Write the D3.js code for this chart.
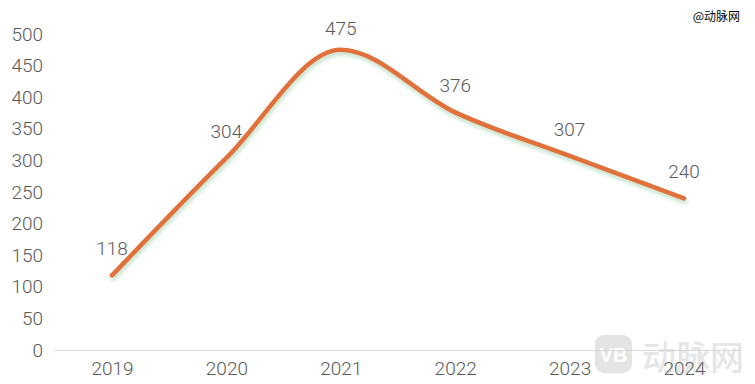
<!DOCTYPE html>
<html><head><meta charset="utf-8">
<script src="https://cdn.jsdelivr.net/npm/d3@7/dist/d3.min.js"></script>
<style>body{margin:0;background:#fff}svg{display:block}</style>
</head><body>
<svg id="c" width="755" height="384"></svg>
<script>
const years = ["2019","2020","2021","2022","2023","2024"];
const values = [118, 304, 475, 376, 307, 240];
const yTicks = [0,50,100,150,200,250,300,350,400,450,500];

const svg = d3.select("#c");
const font = "Roboto, 'Noto Sans', sans-serif";
const x = d3.scalePoint().domain(years).range([112, 684]);
const y = d3.scaleLinear().domain([0, 500]).range([350, 34]);

const defs = svg.append("defs");
const f = defs.append("filter").attr("id","sh").attr("x","-10%").attr("y","-10%").attr("width","120%").attr("height","130%");
f.append("feDropShadow").attr("dx",1).attr("dy",3).attr("stdDeviation",2).attr("flood-color","#a6d4b0").attr("flood-opacity",0.75);

// watermark bottom-right
const wm = svg.append("g");
wm.append("rect").attr("x",595).attr("y",335).attr("width",37).attr("height",38).attr("rx",9).attr("fill","#e4e4e4");
wm.append("text").attr("x",613.5).attr("y",362).attr("text-anchor","middle").attr("fill","#fff")
  .attr("font-family","Arial, sans-serif").attr("font-weight","bold").attr("font-size",20).text("VB");
wm.append("text").attr("x",642).attr("y",370).attr("font-family","'Noto Sans CJK SC', sans-serif")
  .attr("font-size",34).attr("font-weight",500).attr("fill","#e6e6e6").text("动脉网");

// baseline
svg.append("line").attr("x1",55).attr("x2",740).attr("y1",350.5).attr("y2",350.5).attr("stroke","#d6d6d6").attr("stroke-width",1);

// y axis
const yAxis = d3.axisLeft(y).tickValues(yTicks).tickSize(0).tickPadding(0);
const ga = svg.append("g").attr("transform","translate(43,0)").call(yAxis);
ga.select(".domain").remove();
ga.selectAll("text").attr("font-family",font).attr("font-size",19).attr("fill","#595959").attr("font-weight",300);

// x axis
const xAxis = d3.axisBottom(x).tickSize(0).tickPadding(0);
const gx = svg.append("g").attr("transform","translate(0,361)").call(xAxis);
gx.select(".domain").remove();
gx.selectAll("text").attr("font-family",font).attr("font-size",19).attr("fill","#595959").attr("font-weight",300);

// line
const line = d3.line().x((d,i)=>x(years[i])).y(d=>y(d)).curve(d3.curveMonotoneX);
svg.append("path").datum(values).attr("d",line).attr("fill","none")
  .attr("stroke","#e2703a").attr("stroke-width",4.5).attr("stroke-linecap","round").attr("filter","url(#sh)");

// labels
svg.append("g").selectAll("text").data(values).join("text")
  .attr("x",(d,i)=>x(years[i])).attr("y",d=>Math.max(y(d)-20, 35))
  .attr("text-anchor","middle").attr("font-family",font).attr("font-size",19).attr("font-weight",300)
  .attr("fill","#595959").text(d=>d);

// top-right watermark
svg.append("text").attr("x",740).attr("y",21).attr("text-anchor","end")
  .attr("font-family","'Noto Sans CJK SC', sans-serif").attr("font-size",12).attr("fill","#000").text("@动脉网");
</script>
</body></html>
